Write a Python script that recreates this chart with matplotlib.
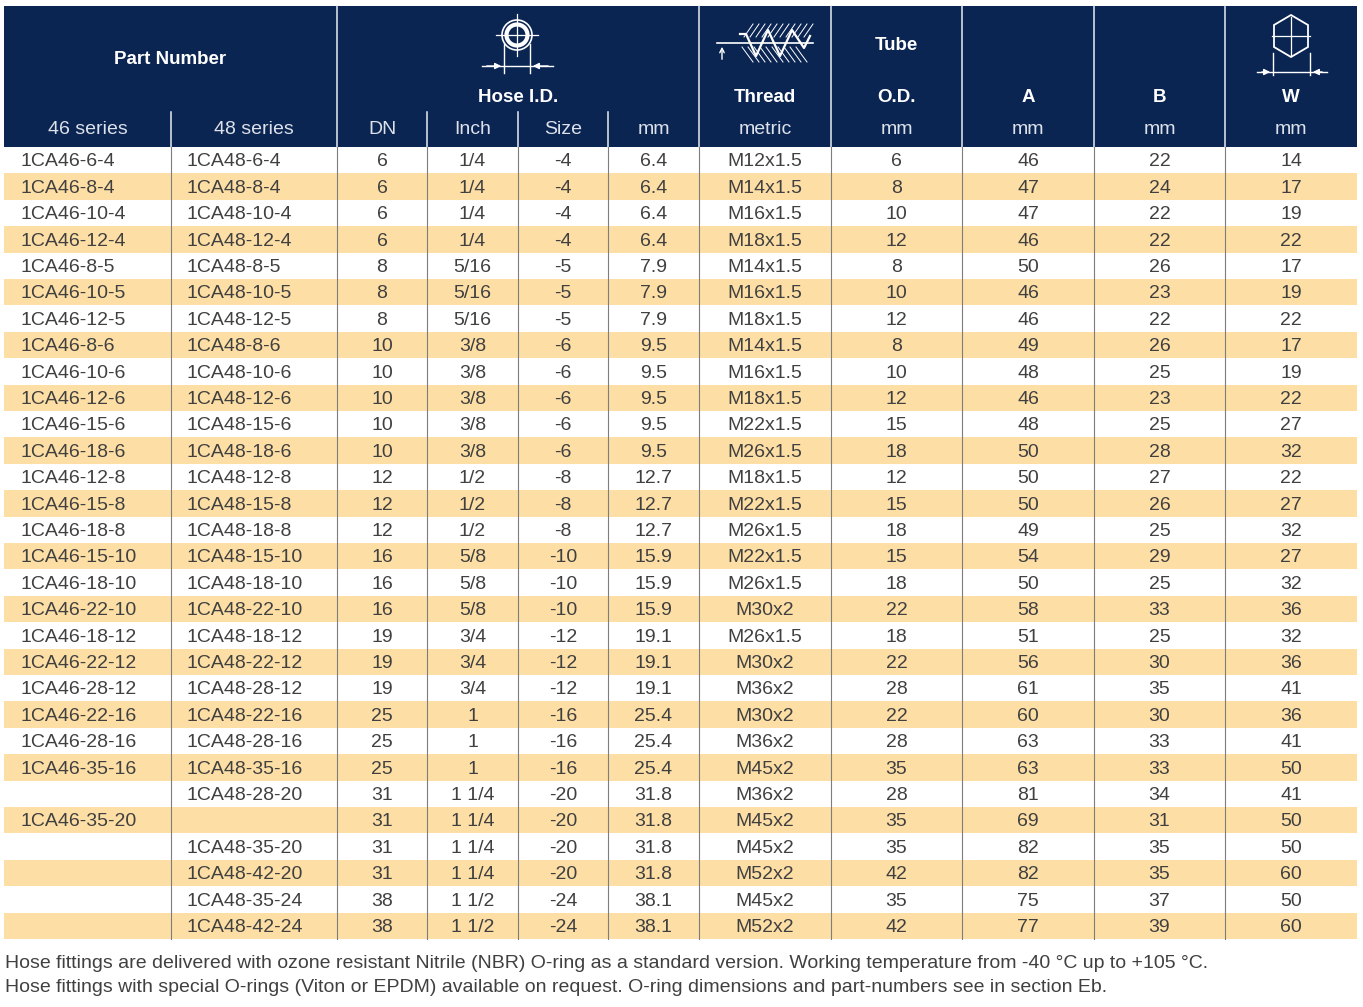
import matplotlib
matplotlib.use("Agg")
import matplotlib.pyplot as plt
from matplotlib.patches import Rectangle, Circle, Polygon, FancyArrowPatch

# table data, one list per column
series46 = ["1CA46-6-4", "1CA46-8-4", "1CA46-10-4", "1CA46-12-4", "1CA46-8-5", "1CA46-10-5",
            "1CA46-12-5", "1CA46-8-6", "1CA46-10-6", "1CA46-12-6", "1CA46-15-6", "1CA46-18-6",
            "1CA46-12-8", "1CA46-15-8", "1CA46-18-8", "1CA46-15-10", "1CA46-18-10", "1CA46-22-10",
            "1CA46-18-12", "1CA46-22-12", "1CA46-28-12", "1CA46-22-16", "1CA46-28-16", "1CA46-35-16",
            "", "1CA46-35-20", "", "", "", ""]
series48 = ["1CA48-6-4", "1CA48-8-4", "1CA48-10-4", "1CA48-12-4", "1CA48-8-5", "1CA48-10-5",
            "1CA48-12-5", "1CA48-8-6", "1CA48-10-6", "1CA48-12-6", "1CA48-15-6", "1CA48-18-6",
            "1CA48-12-8", "1CA48-15-8", "1CA48-18-8", "1CA48-15-10", "1CA48-18-10", "1CA48-22-10",
            "1CA48-18-12", "1CA48-22-12", "1CA48-28-12", "1CA48-22-16", "1CA48-28-16", "1CA48-35-16",
            "1CA48-28-20", "", "1CA48-35-20", "1CA48-42-20", "1CA48-35-24", "1CA48-42-24"]
dn = ["6", "6", "6", "6", "8", "8", "8", "10", "10", "10", "10", "10", "12", "12", "12",
      "16", "16", "16", "19", "19", "19", "25", "25", "25", "31", "31", "31", "31", "38", "38"]
inch = ["1/4", "1/4", "1/4", "1/4", "5/16", "5/16", "5/16", "3/8", "3/8", "3/8", "3/8", "3/8",
        "1/2", "1/2", "1/2", "5/8", "5/8", "5/8", "3/4", "3/4", "3/4", "1", "1", "1",
        "1 1/4", "1 1/4", "1 1/4", "1 1/4", "1 1/2", "1 1/2"]
size = ["-4", "-4", "-4", "-4", "-5", "-5", "-5", "-6", "-6", "-6", "-6", "-6", "-8", "-8", "-8",
        "-10", "-10", "-10", "-12", "-12", "-12", "-16", "-16", "-16", "-20", "-20", "-20", "-20",
        "-24", "-24"]
hose_mm = ["6.4", "6.4", "6.4", "6.4", "7.9", "7.9", "7.9", "9.5", "9.5", "9.5", "9.5", "9.5",
           "12.7", "12.7", "12.7", "15.9", "15.9", "15.9", "19.1", "19.1", "19.1", "25.4", "25.4",
           "25.4", "31.8", "31.8", "31.8", "31.8", "38.1", "38.1"]
thread = ["M12x1.5", "M14x1.5", "M16x1.5", "M18x1.5", "M14x1.5", "M16x1.5", "M18x1.5", "M14x1.5",
          "M16x1.5", "M18x1.5", "M22x1.5", "M26x1.5", "M18x1.5", "M22x1.5", "M26x1.5", "M22x1.5",
          "M26x1.5", "M30x2", "M26x1.5", "M30x2", "M36x2", "M30x2", "M36x2", "M45x2", "M36x2",
          "M45x2", "M45x2", "M52x2", "M45x2", "M52x2"]
tube_od = ["6", "8", "10", "12", "8", "10", "12", "8", "10", "12", "15", "18", "12", "15", "18",
           "15", "18", "22", "18", "22", "28", "22", "28", "35", "28", "35", "35", "42", "35", "42"]
dim_a = ["46", "47", "47", "46", "50", "46", "46", "49", "48", "46", "48", "50", "50", "50", "49",
         "54", "50", "58", "51", "56", "61", "60", "63", "63", "81", "69", "82", "82", "75", "77"]
dim_b = ["22", "24", "22", "22", "26", "23", "22", "26", "25", "23", "25", "28", "27", "26", "25",
         "29", "25", "33", "25", "30", "35", "30", "33", "33", "34", "31", "35", "35", "37", "39"]
dim_w = ["14", "17", "19", "22", "17", "19", "22", "17", "19", "22", "27", "32", "22", "27", "32",
         "27", "32", "36", "32", "36", "41", "36", "41", "50", "41", "50", "50", "60", "50", "60"]

sub_labels = ["46 series", "48 series", "DN", "Inch", "Size", "mm", "metric", "mm", "mm", "mm", "mm"]
footnotes = [
    "Hose fittings are delivered with ozone resistant Nitrile (NBR) O-ring as a standard version. "
    "Working temperature from -40 \u00b0C up to +105 \u00b0C.",
    "Hose fittings with special O-rings (Viton or EPDM) available on request. "
    "O-ring dimensions and part-numbers see in section Eb.",
]

NAVY = "#0b2553"
STRIPE = "#fddfa5"
TXT = "#404040"
FONT = "Liberation Sans"

columns = [series46, series48, dn, inch, size, hose_mm, thread, tube_od, dim_a, dim_b, dim_w]
edges = [4, 171, 337, 427, 518, 608, 699, 831, 962, 1094, 1225, 1357]
top_hdr, sub_top, body_top = 6, 112, 147
row_h = 26.4
nrows = len(series48)

fig = plt.figure(figsize=(13.63, 10.07), dpi=100)
ax = fig.add_axes([0, 0, 1, 1])
ax.set_xlim(0, 1363)
ax.set_ylim(1007, 0)
ax.axis("off")

# header block
ax.add_patch(Rectangle((edges[0], top_hdr), edges[-1] - edges[0], body_top - top_hdr,
                       facecolor=NAVY, edgecolor="none"))
for x in [337, 699, 831, 962, 1094, 1225]:
    ax.plot([x, x], [top_hdr, body_top], color="#e8ecf2", lw=1.1)
for x in [171, 427, 518, 608]:
    ax.plot([x, x], [sub_top, body_top], color="#e8ecf2", lw=1.1)

bold = dict(color="white", fontsize=13.5, fontweight="bold", family=FONT, ha="center", va="center")
ax.text(170, 60, "Part Number", **bold)
ax.text(518, 98, "Hose I.D.", **bold)
ax.text(765, 98, "Thread", **bold)
ax.text(896, 45, "Tube", **bold)
ax.text(896, 98, "O.D.", **bold)
ax.text(1028, 98, "A", **bold)
ax.text(1159, 98, "B", **bold)
ax.text(1291, 98, "W", **bold)
for i, lab in enumerate(sub_labels):
    ax.text((edges[i] + edges[i + 1]) / 2, 130, lab, color="#dde2ea", fontsize=14,
            family=FONT, ha="center", va="center")

# hose I.D. icon
cx, cy = 517, 35
ax.add_patch(Circle((cx, cy), 15, fill=False, ec="white", lw=1.2))
ax.add_patch(Circle((cx, cy), 10.5, fill=False, ec="white", lw=3))
ax.plot([cx - 21, cx + 21], [cy, cy], color="white", lw=0.9)
ax.plot([cx, cx], [cy - 21, cy + 21], color="white", lw=0.9)
ax.plot([504, 504], [44, 73], color="white", lw=1)
ax.plot([530, 530], [44, 73], color="white", lw=1)
ax.plot([482, 553], [66, 66], color="white", lw=1)
for x0, x1 in [(484, 504), (551, 530)]:
    ax.add_patch(FancyArrowPatch((x0, 66), (x1, 66), arrowstyle="-|>", mutation_scale=9,
                                 color="white", lw=1))

# thread icon
ax.plot([717, 813], [43, 43], color="white", lw=1.2)
ax.add_patch(FancyArrowPatch((722, 62), (722, 44), arrowstyle="->", mutation_scale=8,
                             color="white", lw=1))
ax.plot([740, 746, 756, 768, 780, 792, 804, 810], [34, 34, 56, 30, 56, 30, 48, 36],
        color="white", lw=1.6)
for x in range(744, 808, 6):
    ax.plot([x, x + 9], [37, 24], color="white", lw=0.7)
for x in range(742, 802, 6):
    ax.plot([x, x + 11], [47, 62], color="white", lw=0.7)

# hex W icon
hx, hy = 1291, 36
ax.add_patch(Polygon([(hx, 15), (hx + 17, 25), (hx + 17, 47), (hx, 57), (hx - 17, 47), (hx - 17, 25)],
                     closed=True, fill=False, ec="white", lw=1.3))
ax.plot([hx - 19, hx + 19], [hy, hy], color="white", lw=0.9)
ax.plot([hx, hx], [hy - 19, hy + 19], color="white", lw=0.9)
ax.plot([1273, 1273], [53, 75], color="white", lw=1)
ax.plot([1310, 1310], [53, 75], color="white", lw=1)
ax.plot([1257, 1327], [72, 72], color="white", lw=1)
for x0, x1 in [(1259, 1273), (1325, 1310)]:
    ax.add_patch(FancyArrowPatch((x0, 72), (x1, 72), arrowstyle="-|>", mutation_scale=9,
                                 color="white", lw=1))

# body rows
for r in range(nrows):
    y0 = body_top + r * row_h
    if r % 2 == 1:
        ax.add_patch(Rectangle((edges[0], y0), edges[-1] - edges[0], row_h,
                               facecolor=STRIPE, edgecolor="none"))
    yc = y0 + row_h / 2 + 1.8
    for c, col in enumerate(columns):
        if c < 2:
            ax.text(edges[c] + 16, yc, col[r], color=TXT, fontsize=14,
                    family=FONT, ha="left", va="center")
        else:
            ax.text((edges[c] + edges[c + 1]) / 2, yc, col[r], color=TXT, fontsize=14,
                    family=FONT, ha="center", va="center")

body_bot = body_top + nrows * row_h
for x in edges[1:-1]:
    ax.plot([x, x], [body_top, body_bot], color="#7d7d7d", lw=0.8)

for i, line in enumerate(footnotes):
    ax.text(5, 963 + 24 * i, line, color=TXT, fontsize=14,
            family=FONT, ha="left", va="center")

fig.savefig("out.png", dpi=100)
